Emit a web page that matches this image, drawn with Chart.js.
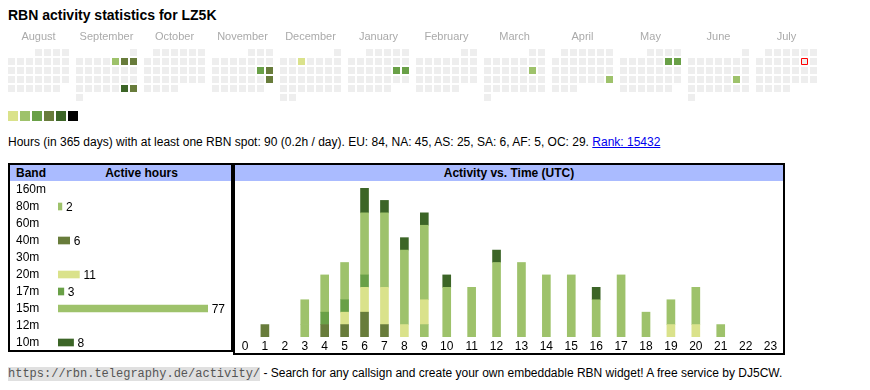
<!DOCTYPE html>
<html>
<head>
<meta charset="utf-8">
<title>RBN activity statistics for LZ5K</title>
<script src="https://cdn.jsdelivr.net/npm/chart.js@4.4.1/dist/chart.umd.min.js"></script>
<style>
  body { margin: 0; width: 870px; height: 390px; position: relative; overflow: hidden; background: #fff;
         font-family: Arial, "Liberation Sans", sans-serif; color: #000; }
  #title { position: absolute; left: 8px; top: 7px; font-size: 14px; line-height: 16px; font-weight: bold; }
  #cal { position: absolute; left: 0; top: 24px; }
  #swatches { position: absolute; left: 8px; top: 111px; height: 10px; }
  #swatches span { float: left; width: 10px; height: 10px; margin-right: 2px; }
  #summary { position: absolute; left: 8px; top: 134px; font-size: 12px; line-height: 16px; white-space: nowrap; }
  #summary a { color: #0000ee; }
  .box { position: absolute; top: 163px; border: 2px solid #000; box-sizing: border-box; }
  #bandBox { left: 8px; width: 225px; height: 189px; }
  #timeBox { left: 233px; width: 552px; height: 192px; }
  .head { position: absolute; left: 0; right: 0; top: 0; height: 16px; background: #aabbff;
          font-size: 12px; line-height: 16px; font-weight: bold; }
  .head span { position: absolute; top: 0; }
  #bandChart { position: absolute; left: 6px; top: 16px; }
  #timeChart { position: absolute; left: 0; top: 16px; }
  #footer { position: absolute; left: 8px; top: 365px; font-size: 12px; line-height: 16px; white-space: nowrap; }
  #footer code { font-family: "Liberation Mono", "DejaVu Sans Mono", monospace; font-size: 12px;
                 background: #e0e0e0; color: #555; }
</style>
</head>
<body>
<div id="title"></div>
<canvas id="cal" width="870" height="80"></canvas>
<div id="swatches"></div>
<div id="summary"></div>

<div class="box" id="bandBox">
  <div class="head"><span style="left:6px">Band</span><span style="left:42px; right:0; text-align:center">Active hours</span></div>
  <canvas id="bandChart" width="215" height="170"></canvas>
</div>
<div class="box" id="timeBox">
  <div class="head" style="text-align:center">Activity vs. Time (UTC)</div>
  <canvas id="timeChart" width="548" height="172"></canvas>
</div>

<div id="footer"><code>https://rbn.telegraphy.de/activity/</code> - Search for any callsign and create your own embeddable RBN widget! A free service by DJ5CW.</div>

<script>
// dati
const callsign = 'LZ5K';
const totalHours = 90;
const hoursPerDay = 0.2;
const continents = ['EU', 'NA', 'AS', 'SA', 'AF', 'OC'];
const continentHours = [84, 45, 25, 6, 5, 29];
const rank = 15432;

// calendario: agosto 2024 -> luglio 2025
const months = ['August', 'September', 'October', 'November', 'December', 'January',
                'February', 'March', 'April', 'May', 'June', 'July'];
const startYear = 2024;
const startMonth = 7; // agosto (0 = gennaio)
const today = '2025-07-12';
const activeDays = ['2024-09-06', '2024-09-07', '2024-09-08', '2024-09-28', '2024-09-29',
                    '2024-11-16', '2024-11-17', '2024-11-24', '2024-12-04', '2025-01-18',
                    '2025-01-19', '2025-03-15', '2025-04-27', '2025-05-10', '2025-05-11',
                    '2025-06-21'];
const activeLevels = [2, 4, 4, 5, 4, 3, 4, 4, 1, 3, 3, 2, 2, 3, 3, 2];
const levelColors = ['#eeeeee', '#dae28b', '#9ec26b', '#69a047', '#687c3b', '#3c6527', '#000000'];

// bande
const bands = ['160m', '80m', '60m', '40m', '30m', '20m', '17m', '15m', '12m', '10m'];
const bandHours = [0, 2, 0, 6, 0, 11, 3, 77, 0, 8];
const bandColors = ['#dae28b', '#9ec26b', '#69a047', '#687c3b', '#3c6527',
                    '#dae28b', '#69a047', '#9ec26b', '#687c3b', '#3c6527'];

// attività per ora UTC
const hourLabels = ['0', '1', '2', '3', '4', '5', '6', '7', '8', '9', '10', '11',
                    '12', '13', '14', '15', '16', '17', '18', '19', '20', '21', '22', '23'];
const hourly80m = [0, 0, 0, 1, 0, 0, 0, 0, 0, 1, 0, 0, 0, 0, 0, 0, 0, 0, 0, 0, 0, 0, 0, 0];
const hourly40m = [0, 1, 0, 0, 1, 1, 2, 1, 0, 0, 0, 0, 0, 0, 0, 0, 0, 0, 0, 0, 0, 0, 0, 0];
const hourly20m = [0, 0, 0, 0, 0, 1, 2, 3, 1, 2, 0, 0, 0, 0, 0, 0, 0, 0, 0, 1, 1, 0, 0, 0];
const hourly17m = [0, 0, 0, 0, 1, 1, 1, 0, 0, 0, 0, 0, 0, 0, 0, 0, 0, 0, 0, 0, 0, 0, 0, 0];
const hourly15m = [0, 0, 0, 2, 3, 3, 5, 6, 6, 6, 4, 4, 6, 6, 5, 5, 3, 5, 2, 2, 3, 1, 0, 0];
const hourly10m = [0, 0, 0, 0, 0, 0, 2, 1, 1, 1, 1, 0, 1, 0, 0, 0, 1, 0, 0, 0, 0, 0, 0, 0];
const hourlyByBand = { '80m': hourly80m, '40m': hourly40m, '20m': hourly20m,
                       '17m': hourly17m, '15m': hourly15m, '10m': hourly10m };

const FONT = 'Arial, "Liberation Sans", sans-serif';
Chart.defaults.font.family = FONT;
Chart.defaults.color = '#000';

// niente padding automatico delle scale, le misure le decido io
const noPad = s => { s.paddingLeft = 0; s.paddingRight = 0; s.paddingTop = 0; s.paddingBottom = 0; };

// testi
document.getElementById('title').textContent = 'RBN activity statistics for ' + callsign;
document.getElementById('summary').innerHTML =
  'Hours (in 365 days) with at least one RBN spot: ' + totalHours + ' (' + hoursPerDay + 'h / day). ' +
  continents.map((c, i) => c + ': ' + continentHours[i]).join(', ') + '. ' +
  '<a href="#">Rank: ' + rank + '</a>';
document.getElementById('swatches').innerHTML =
  levelColors.slice(1).map(c => '<span style="background:' + c + '"></span>').join('');

// ---- calendario (scatter con quadratini) ----
const CAL_LEFT = 8, PITCH = 9, CELL = 7, MONTH_W = 68, AXIS_H = 20, ROW_OFF = 8.5;
const calPoints = [], calFill = [], calBorder = [], calBorderW = [], calRadius = [];
for (let m = 0; m < months.length; m++) {
  const y = startYear + Math.floor((startMonth + m) / 12);
  const mo = (startMonth + m) % 12;
  const first = (new Date(Date.UTC(y, mo, 1)).getUTCDay() + 6) % 7; // lunedì = 0
  const nDays = new Date(Date.UTC(y, mo + 1, 0)).getUTCDate();
  for (let d = 1; d <= nDays; d++) {
    const slot = first + d - 1;
    const key = y + '-' + String(mo + 1).padStart(2, '0') + '-' + String(d).padStart(2, '0');
    const idx = activeDays.indexOf(key);
    calPoints.push({ x: CAL_LEFT + m * MONTH_W + (slot % 7) * PITCH + CELL / 2, y: Math.floor(slot / 7) });
    calFill.push(levelColors[idx >= 0 ? activeLevels[idx] : 0]);
    const isToday = key === today;
    calBorder.push(isToday ? '#ff0000' : 'rgba(0,0,0,0)');
    calBorderW.push(isToday ? 1 : 0);
    // rect: lato = 2 * r * SQRT1_2
    calRadius.push((isToday ? CELL - 1 : CELL) / 2 / Math.SQRT1_2);
  }
}
const monthCenters = months.map((_, m) => CAL_LEFT + m * MONTH_W + (7 * PITCH - (PITCH - CELL)) / 2);
const calCanvas = document.getElementById('cal');
const rowSpan = (calCanvas.height - AXIS_H) / PITCH;

new Chart(calCanvas, {
  type: 'scatter',
  data: {
    datasets: [{
      data: calPoints,
      pointStyle: 'rect',
      pointRadius: calRadius,
      pointHoverRadius: calRadius,
      pointBackgroundColor: calFill,
      pointBorderColor: calBorder,
      pointBorderWidth: calBorderW,
      clip: false
    }]
  },
  options: {
    responsive: false,
    animation: false,
    events: [],
    layout: { padding: 0, autoPadding: false },
    plugins: { legend: { display: false }, tooltip: { enabled: false } },
    scales: {
      x: {
        type: 'linear', position: 'top', min: 0, max: calCanvas.width,
        grid: { display: false, drawTicks: false }, border: { display: false },
        afterBuildTicks: s => { s.ticks = monthCenters.map(v => ({ value: v })); },
        afterFit: s => { s.height = AXIS_H; noPad(s); },
        ticks: { autoSkip: false, maxRotation: 0, padding: 0, color: '#aaaaaa', font: { size: 11 },
                 callback: (v, i) => months[i] }
      },
      y: {
        type: 'linear', display: false, reverse: true,
        min: -ROW_OFF / PITCH, max: -ROW_OFF / PITCH + rowSpan
      }
    }
  }
});

// ---- ore attive per banda ----
const valueLabels = {
  id: 'valueLabels',
  afterDatasetsDraw(chart) {
    const ctx = chart.ctx;
    ctx.save();
    ctx.font = '12px ' + FONT;
    ctx.fillStyle = '#000';
    ctx.textBaseline = 'middle';
    chart.getDatasetMeta(0).data.forEach((bar, i) => {
      if (bandHours[i] > 0) ctx.fillText(String(bandHours[i]), bar.x + 4, bar.y + 1);
    });
    ctx.restore();
  }
};

new Chart(document.getElementById('bandChart'), {
  type: 'bar',
  data: { labels: bands, datasets: [{ data: bandHours.map(v => v || null), backgroundColor: bandColors, barThickness: 7 }] },
  options: {
    indexAxis: 'y',
    responsive: false,
    animation: false,
    events: [],
    layout: { padding: 0, autoPadding: false },
    plugins: { legend: { display: false }, tooltip: { enabled: false } },
    scales: {
      y: {
        grid: { display: false, drawTicks: false }, border: { display: false },
        afterFit: s => { s.width = 42; noPad(s); },
        ticks: { autoSkip: false, crossAlign: 'far', padding: 0, font: { size: 12 }, color: '#000' }
      },
      x: { display: false, min: 0, max: Math.ceil(Math.max(...bandHours) * 1.15) }
    }
  },
  plugins: [valueLabels]
});

// ---- attività vs ora (colonne impilate) ----
// larghezza colonna proporzionale all'etichetta, come una tabella html
const weights = hourLabels.map(l => l.length + 3);
const centers = [];
weights.reduce((acc, w) => { centers.push(acc + w / 2); return acc + w; }, 0);
const totalW = weights.reduce((a, b) => a + b, 0);
const hourTotals = hourLabels.map((_, i) => bands.reduce((s, b) => s + (hourlyByBand[b] ? hourlyByBand[b][i] : 0), 0));

new Chart(document.getElementById('timeChart'), {
  type: 'bar',
  data: {
    datasets: bands.filter(b => hourlyByBand[b]).map(b => ({
      label: b,
      data: hourlyByBand[b].map((v, i) => ({ x: centers[i], y: v || null })),
      backgroundColor: bandColors[bands.indexOf(b)],
      barThickness: 8
    }))
  },
  options: {
    responsive: false,
    animation: false,
    events: [],
    layout: { padding: { top: 7, left: 0, right: 0, bottom: 0 }, autoPadding: false },
    plugins: { legend: { display: false }, tooltip: { enabled: false } },
    scales: {
      x: {
        type: 'linear', stacked: true, offset: false, min: 0, max: totalW,
        grid: { display: false, drawTicks: false, offset: false }, border: { display: false },
        afterBuildTicks: s => { s.ticks = centers.map(v => ({ value: v })); },
        afterFit: s => { s.height = 16; noPad(s); },
        ticks: { autoSkip: false, maxRotation: 0, padding: 2, font: { size: 12 }, color: '#000',
                 callback: (v, i) => hourLabels[i] }
      },
      y: { stacked: true, display: false, min: 0, max: Math.max(...hourTotals) }
    }
  }
});
</script>
</body>
</html>
